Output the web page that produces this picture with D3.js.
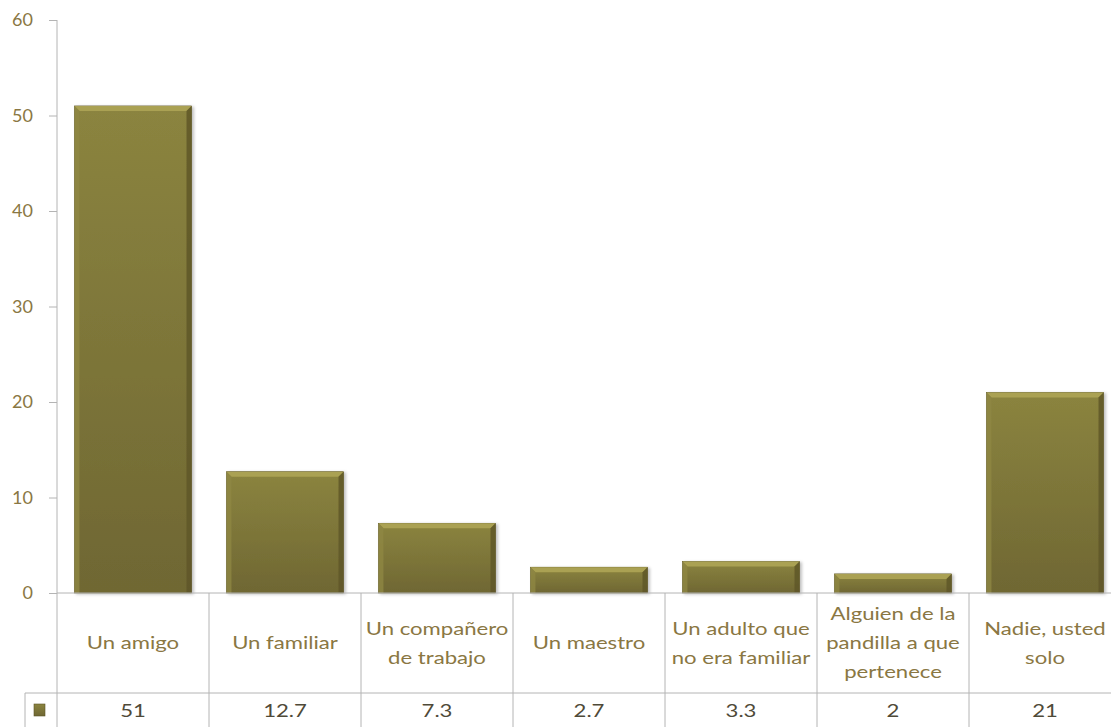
<!DOCTYPE html>
<html>
<head>
<meta charset="utf-8">
<script src="https://cdn.jsdelivr.net/npm/d3@7"></script>
<style>
  body { margin: 0; background: #fff; }
  svg { display: block; }
</style>
</head>
<body>
<div id="chart"></div>
<script>
// chart size
const width = 1111;
const height = 727;
const margin = {left: 57, right: -10, top: 20};
const zeroY = 593;     // y of the value 0
const rowMid = 693;    // line between labels and values
const textColor = "#8a7743";
const lineColor = "#b4b4b4";
const stretch = 1.23;  // the source text is wider than Lato

// data
const categories = [
  ["Un amigo"],
  ["Un familiar"],
  ["Un compañero", "de trabajo"],
  ["Un maestro"],
  ["Un adulto  que", "no era familiar"],
  ["Alguien de la", "pandilla a que", "pertenece"],
  ["Nadie, usted", "solo"]
];
const values = [51, 12.7, 7.3, 2.7, 3.3, 2, 21];
const valueLabels = ["51", "12.7", "7.3", "2.7", "3.3", "2", "21"];
const yTicks = [0, 10, 20, 30, 40, 50, 60];

const svg = d3.select("#chart")
  .append("svg")
  .attr("width", width)
  .attr("height", height)
  .style("font-family", "Lato, 'Open Sans', sans-serif");

// gradients for the bevelled bars
const defs = svg.append("defs");
const grad = defs.append("linearGradient")
  .attr("id", "barFill").attr("x1", 0).attr("y1", 0).attr("x2", 0).attr("y2", 1);
grad.append("stop").attr("offset", "0%").attr("stop-color", "#8b843f");
grad.append("stop").attr("offset", "100%").attr("stop-color", "#6f6733");

const filter = defs.append("filter").attr("id", "shadow")
  .attr("x", "-10%").attr("y", "-10%").attr("width", "130%").attr("height", "130%");
filter.append("feDropShadow").attr("dx", 2).attr("dy", 1).attr("stdDeviation", 1.5)
  .attr("flood-color", "#000").attr("flood-opacity", 0.25);

// scales
const y = d3.scaleLinear().domain([0, 60]).range([zeroY, margin.top]);
const x = d3.scaleBand()
  .domain(d3.range(categories.length))
  .range([margin.left, width - margin.right])
  .paddingInner(0.23)
  .paddingOuter(0.115);
const xCell = d3.scaleBand()
  .domain(d3.range(categories.length))
  .range([margin.left, width - margin.right]);

// y axis
const yAxis = svg.append("g")
  .attr("transform", `translate(${margin.left},0)`)
  .call(d3.axisLeft(y).tickValues(yTicks).tickSize(8).tickPadding(16));
yAxis.select(".domain").remove();
yAxis.selectAll("line").attr("stroke", lineColor);
yAxis.selectAll("text")
  .attr("fill", textColor)
  .attr("font-size", "18px")
  .attr("font-family", "Lato, 'Open Sans', sans-serif");

svg.append("line")
  .attr("x1", margin.left).attr("x2", margin.left)
  .attr("y1", margin.top).attr("y2", height)
  .attr("stroke", lineColor);

// bars
const bev = 5;
const bars = svg.selectAll(".bar")
  .data(values)
  .enter()
  .append("g")
  .attr("class", "bar")
  .attr("filter", "url(#shadow)");

bars.append("rect")
  .attr("x", (d, i) => x(i))
  .attr("y", d => y(d))
  .attr("width", x.bandwidth())
  .attr("height", d => zeroY - y(d))
  .attr("fill", "url(#barFill)")
  .attr("stroke", "#5c5426")
  .attr("stroke-width", 0.6);

// top bevel
bars.append("polygon")
  .attr("points", (d, i) => {
    const x0 = x(i), x1 = x(i) + x.bandwidth(), t = y(d);
    return `${x0},${t} ${x1},${t} ${x1 - bev},${t + bev} ${x0 + bev},${t + bev}`;
  })
  .attr("fill", "#aaa152");
// left bevel
bars.append("polygon")
  .attr("points", (d, i) => {
    const x0 = x(i), t = y(d);
    return `${x0},${t} ${x0 + bev},${t + bev} ${x0 + bev},${zeroY} ${x0},${zeroY}`;
  })
  .attr("fill", "#8f8743")
  .attr("opacity", 0.8);
// right bevel
bars.append("polygon")
  .attr("points", (d, i) => {
    const x1 = x(i) + x.bandwidth(), t = y(d);
    return `${x1},${t} ${x1 - bev},${t + bev} ${x1 - bev},${zeroY} ${x1},${zeroY}`;
  })
  .attr("fill", "#5f5729")
  .attr("opacity", 0.85);

// data table
svg.append("line")
  .attr("x1", margin.left).attr("x2", width)
  .attr("y1", zeroY).attr("y2", zeroY)
  .attr("stroke", lineColor);
svg.append("line")
  .attr("x1", margin.left - 32).attr("x2", width)
  .attr("y1", rowMid).attr("y2", rowMid)
  .attr("stroke", lineColor);
svg.append("line")
  .attr("x1", margin.left - 32).attr("x2", margin.left - 32)
  .attr("y1", rowMid).attr("y2", height)
  .attr("stroke", lineColor);

svg.selectAll(".cellLine")
  .data(d3.range(1, categories.length))
  .enter()
  .append("line")
  .attr("class", "cellLine")
  .attr("x1", i => xCell(i)).attr("x2", i => xCell(i))
  .attr("y1", zeroY).attr("y2", height)
  .attr("stroke", lineColor);

// category labels
const lineH = 29;
svg.selectAll(".catLabel")
  .data(categories)
  .enter()
  .append("text")
  .attr("class", "catLabel")
  .attr("text-anchor", "middle")
  .attr("fill", textColor)
  .attr("font-size", "18px")
  .attr("transform", (d, i) => `translate(${xCell(i) + xCell.bandwidth() / 2},0) scale(${stretch},1)`)
  .each(function(lines) {
    const start = (zeroY + rowMid) / 2 - (lines.length - 1) * lineH / 2;
    d3.select(this).selectAll("tspan")
      .data(lines)
      .enter()
      .append("tspan")
      .attr("x", 0)
      .attr("y", (l, j) => start + j * lineH)
      .attr("dy", "0.35em")
      .text(l => l);
  });

// value row
svg.selectAll(".valLabel")
  .data(valueLabels)
  .enter()
  .append("text")
  .attr("class", "valLabel")
  .attr("transform", (d, i) => `translate(${xCell(i) + xCell.bandwidth() / 2},711) scale(${stretch},1)`)
  .attr("dy", "0.35em")
  .attr("text-anchor", "middle")
  .attr("fill", "#4f4a38")
  .attr("font-size", "18px")
  .text(d => d);

// legend key
svg.append("rect")
  .attr("x", 34).attr("y", 704)
  .attr("width", 11).attr("height", 12)
  .attr("fill", "url(#barFill)")
  .attr("stroke", "#5c5426")
  .attr("stroke-width", 0.6);
</script>
</body>
</html>
